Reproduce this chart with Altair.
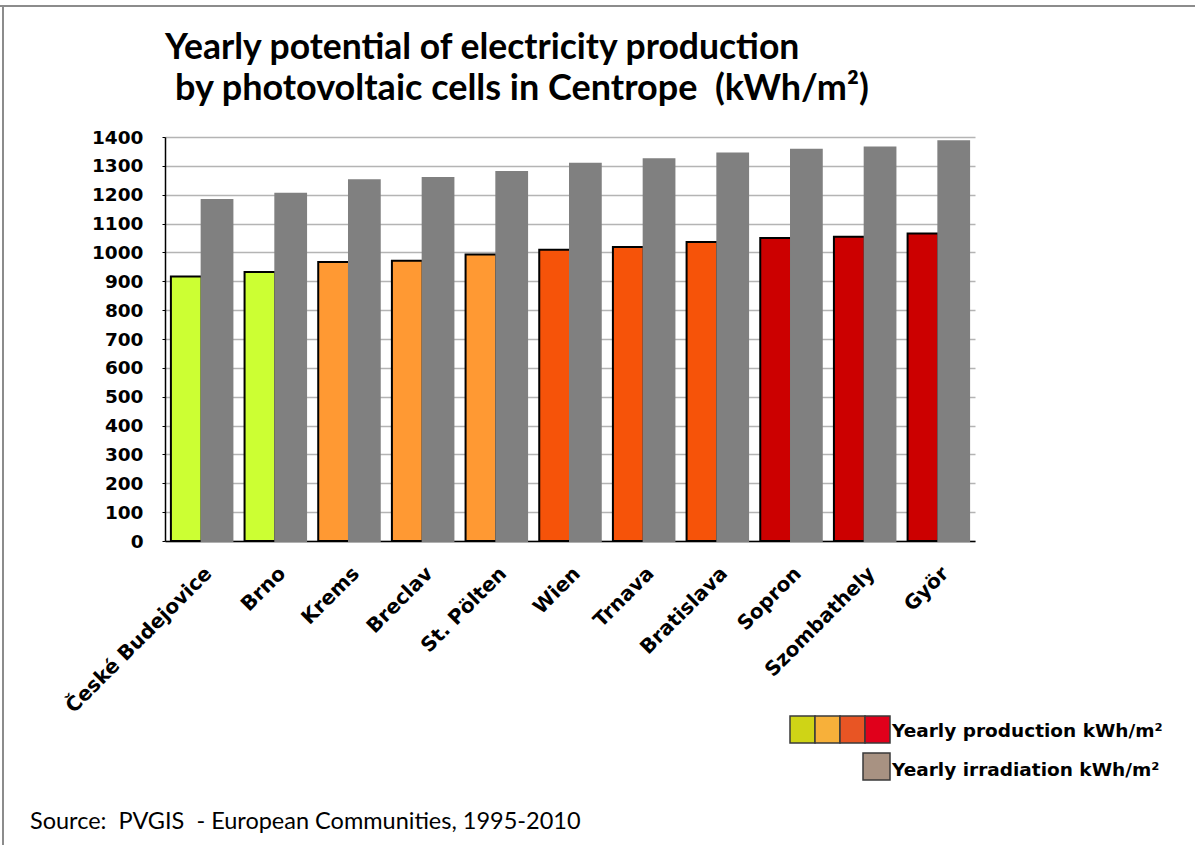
import altair as alt
import pandas as pd

# Cities of the Centrope region, ordered by irradiation
cities = ["České Budejovice", "Brno", "Krems", "Breclav", "St. Pölten", "Wien",
          "Trnava", "Bratislava", "Sopron", "Szombathely", "Györ"]
# Yearly production potential of PV cells (kWh/m²)
production = [917, 932, 967, 971, 993, 1009, 1019, 1036, 1050, 1054, 1066]
# Yearly global irradiation (kWh/m²)
irradiation = [1182, 1203, 1250, 1258, 1279, 1307, 1323, 1343, 1356, 1364, 1385]
# Production bar colour by class
production_colors = ["#ccff33", "#ccff33", "#ff9933", "#ff9933", "#ff9933",
                     "#f65309", "#f65309", "#f65309", "#cc0000", "#cc0000", "#cc0000"]
irradiation_color = "#808080"

series_names = ["Yearly production", "Yearly irradiation"]
legend_swatches = ["#cfd416", "#f7b03a", "#e85524", "#e0001b"]
legend_irr_swatch = "#a89282"

# \u200b keeps "t" and "i" from joining into a ligature
title_lines = ["Yearly poten\u200btial of electricity production",
               "by photovoltaic cells in Centrope\u00a0\u00a0(kWh/m²)"]
source_text = "Source:\u00a0\u00a0PVGIS\u00a0\u00a0- European Communi\u200bties, 1995-2010"
legend_labels = ["Yearly production kWh/m²", "Yearly irradiation kWh/m²"]

rows = []
for i, c in enumerate(cities):
    rows.append({"city": c, "series": series_names[0], "value": production[i],
                 "fill": production_colors[i], "edge": "#000000"})
    rows.append({"city": c, "series": series_names[1], "value": irradiation[i],
                 "fill": irradiation_color, "edge": irradiation_color})
df = pd.DataFrame(rows)

W, H = 810, 404
PAD_L, PAD_T = 165, 137

bars = alt.Chart(df).mark_bar(strokeWidth=2).encode(
    x=alt.X("city:N", sort=cities, title=None,
            scale=alt.Scale(paddingInner=0.165, paddingOuter=0.08),
            axis=alt.Axis(labelAngle=-45, labelAlign="right", labelBaseline="top",
                          labelFont="DejaVu Sans", labelFontWeight="bold",
                          labelFontSize=20, labelColor="#000000", labelPadding=22,
                          labelLimit=0, ticks=False, domainColor="#000000",
                          domainWidth=1.5, labelOverlap=False)),
    xOffset=alt.XOffset("series:N", sort=series_names,
                        scale=alt.Scale(paddingInner=0, paddingOuter=0)),
    y=alt.Y("value:Q", title=None,
            scale=alt.Scale(domain=[0, 1400], nice=False),
            axis=alt.Axis(values=list(range(0, 1401, 100)), format="d",
                          labelFont="DejaVu Sans",
                          labelFontWeight="bold", labelFontSize=18.5,
                          labelColor="#000000", labelPadding=19, tickSize=3,
                          tickColor="#000000", domainColor="#000000",
                          domainWidth=1.5, gridColor="#b4b4b4", gridWidth=1.5)),
    fill=alt.Fill("fill:N", scale=None),
    stroke=alt.Stroke("edge:N", scale=None),
)

one = pd.DataFrame({"k": [0]})

def label(text, x, y, size, font, weight="normal", align="left"):
    return alt.Chart(one).mark_text(
        text=text, align=align, baseline="alphabetic", font=font,
        fontSize=size, fontWeight=weight, color="#000000"
    ).encode(x=alt.value(x), y=alt.value(y))

title1 = label(title_lines[0], 0, -78, 35.5, "Lato", "bold")
title2 = label(title_lines[1], 10, -37, 36, "Lato", "bold")
source = label(source_text, -135, 692, 23.5, "Lato")

swatches = []
for i, col in enumerate(legend_swatches):
    x0 = 625 + 25 * i
    swatches.append(alt.Chart(one).mark_rect(
        fill=col, stroke="#3a3a3a", strokeWidth=1.5
    ).encode(x=alt.value(x0), x2=alt.value(x0 + 25),
             y=alt.value(579), y2=alt.value(606)))
swatches.append(alt.Chart(one).mark_rect(
    fill=legend_irr_swatch, stroke="#3a3a3a", strokeWidth=1.5
).encode(x=alt.value(698), x2=alt.value(725), y=alt.value(616), y2=alt.value(643)))

leg1 = label(legend_labels[0], 727, 600, 18.5, "DejaVu Sans", "bold")
leg2 = label(legend_labels[1], 727, 639, 18.5, "DejaVu Sans", "bold")

# Slide frame along the top and left edges
frame_top = alt.Chart(one).mark_rule(color="#8c8c8c", strokeWidth=2).encode(
    x=alt.value(-PAD_L), x2=alt.value(1195 - PAD_L), y=alt.value(-131))
frame_left = alt.Chart(one).mark_rule(color="#8c8c8c", strokeWidth=2).encode(
    x=alt.value(-162), y=alt.value(-131), y2=alt.value(845 - PAD_T))

chart = alt.layer(
    bars, title1, title2, source, *swatches, leg1, leg2, frame_top, frame_left
).properties(
    width=W, height=H,
    autosize=alt.AutoSizeParams(type="none"),
    padding={"left": PAD_L, "top": PAD_T, "right": 1195 - PAD_L - W,
             "bottom": 845 - PAD_T - H},
    background="#ffffff",
).configure_view(stroke=None)

chart.save("out.html", embed_options={"renderer": "svg", "actions": False})
